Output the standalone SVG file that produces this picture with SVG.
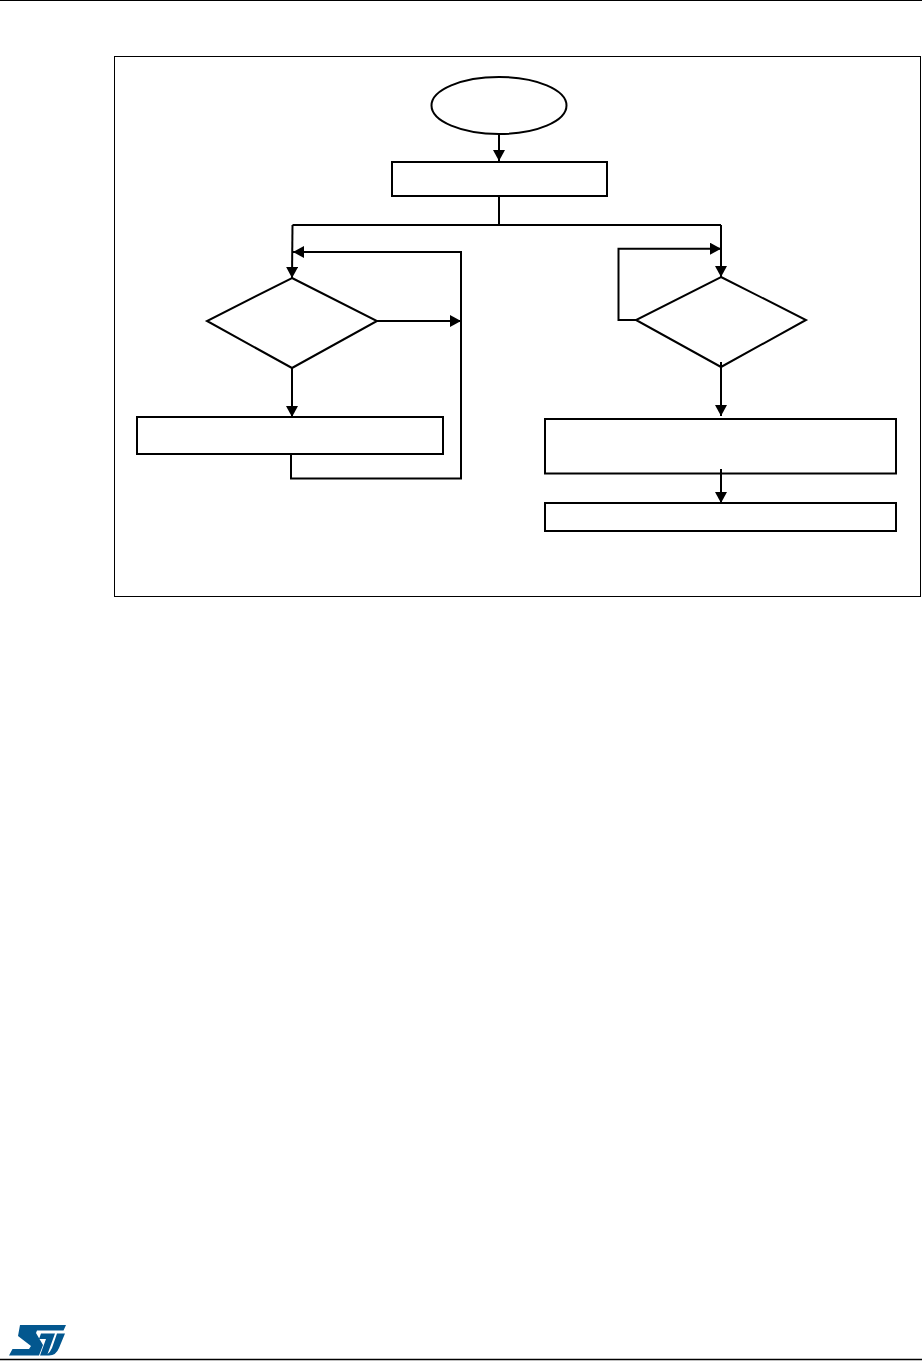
<svg xmlns="http://www.w3.org/2000/svg" width="922" height="1361" viewBox="0 0 922 1361">
<style>
.n{fill:#fff;stroke:#000;stroke-width:2}
.c{fill:none;stroke:#000;stroke-width:2}
.a{marker-end:url(#ah)}
</style>
<defs>
<marker id="ah" markerUnits="userSpaceOnUse" markerWidth="12" markerHeight="12" refX="11" refY="6" orient="auto"><path d="M0 0L11 6L0 12Z" fill="#000"/></marker>
</defs>
<rect width="922" height="1361" fill="#fff"/>
<line x1="0" y1="0.5" x2="922" y2="0.5" stroke="#000"/>
<line x1="0" y1="1359.500" x2="922" y2="1359.500" stroke="#000" stroke-width="1.500"/>
<rect id="frame" x="114.500" y="56.500" width="806" height="540" fill="none" stroke="#000" stroke-width="1"/>
<g id="n-start"><ellipse class="n" cx="499" cy="105.500" rx="67.500" ry="28.500"/></g>
<g id="n-init"><rect class="n" x="392" y="162" width="215" height="34"/></g>
<g id="n-dec-left"><polygon class="n" points="292,278 377,321 292,368 207,321"/></g>
<g id="n-proc-left"><rect class="n" x="137" y="417" width="306" height="37"/></g>
<g id="n-dec-right"><polygon class="n" points="721,277 806,320 721,367 636,320"/></g>
<g id="n-proc-right1"><rect class="n" x="545" y="419" width="351" height="54.500"/></g>
<g id="n-proc-right2"><rect class="n" x="545" y="503" width="351" height="28"/></g>
<g id="connectors">
<path class="c a" d="M499 134V161"/>
<path class="c" d="M499 196V225"/>
<path class="c" d="M721 225H292.500"/>
<path class="c a" d="M292.500 225L292 278"/>
<path class="c a" d="M721 225V277"/>
<path class="c a" d="M377 321H461"/>
<path class="c a" d="M291 454V478.500H461V252H293"/>
<path class="c a" d="M292 368V417"/>
<path class="c a" d="M636 320H618.500V248.700H721"/>
<path class="c a" d="M721 362V416"/>
<path class="c a" d="M721 469V503"/>
</g>
<g id="logo"><path fill="#03578f" d="M20 1325H66L63.500 1330.500H37L36 1333L43 1345L39 1355.500H9L12.500 1349H29L31 1346L18 1336ZM41 1333.500H55L47 1355.500H40L46 1339H39ZM57 1333.500H65L59 1348Q56 1355.500 49 1355.500H46Q50 1353 52 1348Z"/></g>
</svg>
